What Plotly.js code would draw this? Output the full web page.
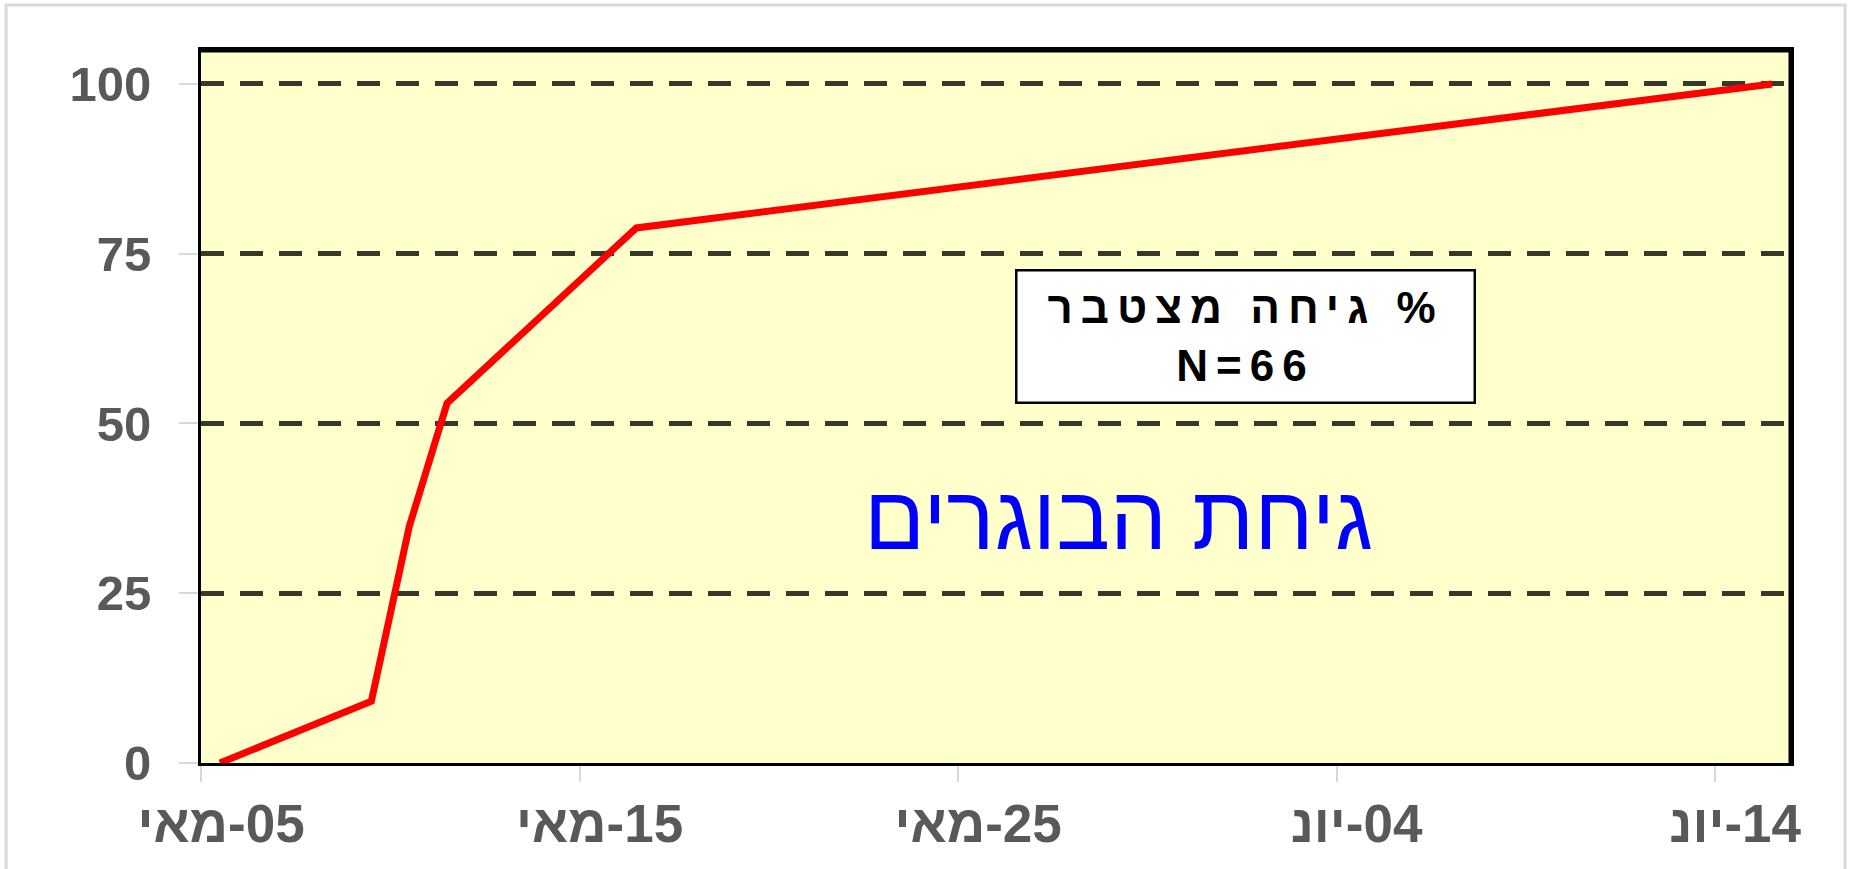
<!DOCTYPE html>
<html>
<head>
<meta charset="utf-8">
<script src="https://cdn.plot.ly/plotly-3.0.1.min.js"></script>
<style>html,body{margin:0;padding:0;background:#fff;}</style>
</head>
<body>
<div id="chart" style="width:1849px;height:869px;"></div>
<script>
// Data (cumulative % emergence, N=66)
const dates = ['2021-05-05 12:00', '2021-05-09 12:00', '2021-05-10 12:00', '2021-05-11 12:00', '2021-05-16 12:00', '2021-06-15 12:00'];
const values = [0, 9.1, 34.8, 53.0, 78.8, 100];
const xTickVals = ['2021-05-05', '2021-05-15', '2021-05-25', '2021-06-04', '2021-06-14'];
const xTickText = ['05-מאי', '15-מאי', '25-מאי', '04-יונ', '14-יונ'];
const yTickVals = [0, 25, 50, 75, 100];
const boxLine1 = '% גיחה מצטבר';
const boxLine2 = 'N=66';
const bigTitle = 'גיחת הבוגרים';

const RLE = '\u202B', PDF = '\u202C';
const fam = 'Liberation Sans, Arial, DejaVu Sans, sans-serif';

const trace = {
  x: dates, y: values, type: 'scatter', mode: 'lines',
  line: {color: '#FF0000', width: 7},
  hoverinfo: 'x+y'
};

const layout = {
  width: 1849, height: 869,
  margin: {l: 201, r: 58, t: 50, b: 106},
  paper_bgcolor: '#FFFFFF',
  plot_bgcolor: '#FFFFCC',
  showlegend: false,
  xaxis: {
    type: 'date',
    range: ['2021-05-05', '2021-06-16'],
    tickmode: 'array', tickvals: xTickVals,
    ticktext: xTickText.map(t => RLE + t + PDF),
    ticks: 'outside', ticklen: 16, tickwidth: 2, tickcolor: '#d9d9d9',
    ticklabelshift: 20, ticklabelstandoff: -4,
    tickangle: 0,
    tickfont: {family: fam, size: 53, color: '#595959', weight: 'bold'},
    showgrid: false, zeroline: false,
    showline: true, linecolor: '#000000', linewidth: 3, mirror: true
  },
  yaxis: {
    range: [0, 105],
    tickmode: 'array', tickvals: yTickVals,
    ticks: 'outside', ticklen: 19, tickwidth: 2, tickcolor: '#d9d9d9',
    ticklabelstandoff: 18,
    tickfont: {family: fam, size: 49, color: '#595959', weight: 'bold'},
    showgrid: true, gridcolor: '#38382a', gridwidth: 5, griddash: '23px,16px',
    zeroline: false,
    showline: true, linecolor: '#000000', linewidth: 3, mirror: true
  },
  annotations: [
    {
      xref: 'paper', yref: 'paper', x: 0.6572, y: 0.5975,
      xanchor: 'center', yanchor: 'middle',
      text: RLE + boxLine1 + PDF + '<br>' + boxLine2, showarrow: false, align: 'center',
      font: {family: fam, size: 44, color: '#000000', weight: 'bold'},
      bgcolor: '#FFFFFF', bordercolor: '#000000', borderwidth: 2.5, borderpad: 4,
      width: 448, height: 122
    },
    {
      xref: 'paper', yref: 'paper', x: 0.577, y: 0.343,
      xanchor: 'center', yanchor: 'middle',
      text: bigTitle, showarrow: false,
      font: {family: fam, size: 90, color: '#0000FF'}
    }
  ],
  shapes: [
    {
      type: 'rect', xref: 'paper', yref: 'paper',
      x0: -0.1226, x1: 1.034, y0: -0.2, y1: 1.0631,
      line: {color: '#d9d9d9', width: 3}, fillcolor: 'rgba(0,0,0,0)', layer: 'below'
    },
    {type: 'line', xref: 'paper', yref: 'paper', x0: 0, x1: 1, y0: 1, y1: 1, line: {color: '#000000', width: 5}},
    {type: 'line', xref: 'paper', yref: 'paper', x0: 1, x1: 1, y0: 0, y1: 1, line: {color: '#000000', width: 5}}
  ]
};

Plotly.newPlot('chart', [trace], layout, {displayModeBar: false, responsive: false}).then(gd => {
  const t = gd.querySelector('.annotation .annotation-text');
  if (t) {
    t.style.letterSpacing = '8px';
  }
});
</script>
</body>
</html>
